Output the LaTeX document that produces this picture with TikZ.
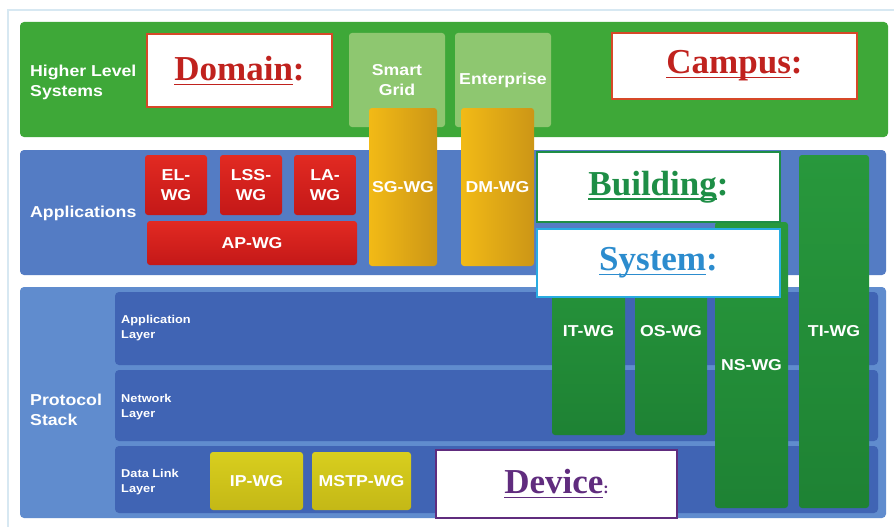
\documentclass[tikz,border=0pt]{standalone}
\usepackage{fontspec}
\setmainfont{Liberation Sans}[FakeStretch=1.12]
\newfontfamily\titlefont{Liberation Serif}
\usetikzlibrary{positioning}

\definecolor{framecol}{RGB}{215,232,242}
\definecolor{bandgreen}{RGB}{62,168,56}
\definecolor{gridgreen}{RGB}{142,199,112}
\definecolor{appblue}{RGB}{84,124,196}
\definecolor{stackblue}{RGB}{96,140,206}
\definecolor{layerblue}{RGB}{64,100,180}
\definecolor{wgredA}{RGB}{226,42,34}
\definecolor{wgredB}{RGB}{196,24,24}
\definecolor{wggoldA}{RGB}{242,186,22}
\definecolor{wggoldB}{RGB}{204,150,22}
\definecolor{wgoliveA}{RGB}{216,206,30}
\definecolor{wgoliveB}{RGB}{196,184,22}
\definecolor{wggreenA}{RGB}{40,152,60}
\definecolor{wggreenB}{RGB}{30,130,52}
\definecolor{domainred}{RGB}{192,34,30}
\definecolor{domainedge}{RGB}{214,72,40}
\definecolor{buildgreen}{RGB}{30,142,70}
\definecolor{systemblue}{RGB}{44,140,206}
\definecolor{systemedge}{RGB}{40,172,226}
\definecolor{devicepurple}{RGB}{96,44,126}

% underline a word, as in the picture
\newcommand{\ulword}[1]{\setbox0\hbox{#1}\rlap{\rule[-4.5pt]{\wd0}{1.3pt}}\box0}

\tikzset{
  band/.style={rounded corners=4pt, inner sep=0pt},
  bandtext/.style={text=white, font=\fontsize{15.8}{20}\selectfont\bfseries, align=left, anchor=west, inner sep=0pt},
  layertext/.style={text=white, font=\fontsize{11.4}{15}\selectfont\bfseries, align=left, anchor=west, inner sep=0pt},
  wgbox/.style={rounded corners=3pt, text=white, font=\fontsize{15.8}{20}\selectfont\bfseries, align=center, inner sep=0pt},
  redwg/.style={wgbox, top color=wgredA, bottom color=wgredB},
  goldwg/.style={wgbox, left color=wggoldA, right color=wggoldB},
  olivewg/.style={wgbox, top color=wgoliveA, bottom color=wgoliveB},
  greenwg/.style={wgbox, top color=wggreenA, bottom color=wggreenB},
  titlebox/.style={draw=#1, line width=2.6pt, fill=white, inner sep=0pt,
    font=\titlefont\fontsize{35}{40}\selectfont\bfseries}
}

\begin{document}
\begin{tikzpicture}[x=1pt, y=-1pt]
  \useasboundingbox (0,0) rectangle (894,527);
  \fill[white] (0,0) rectangle (894,527);
  \draw[framecol, line width=1.2pt] (8,10) rectangle (910,540);

  % higher level systems
  \node[band, fill=bandgreen, minimum width=868, minimum height=115] (hlsband) at (454,79.5) {};
  \node[bandtext] (hlstext) at (30,82) {Higher Level\\Systems};
  \node[titlebox=domainedge, text=domainred, minimum width=185, minimum height=73] (domain) at (239.5,70.5) {\ulword{Domain}:};
  \node[wgbox, fill=gridgreen, minimum width=96, minimum height=94] (smartgrid) at (397,80) {Smart\\Grid};
  \node[wgbox, fill=gridgreen, minimum width=96, minimum height=94] (enterprise) at (503,80) {Enterprise};
  \node[titlebox=domainedge, text=domainred, minimum width=245, minimum height=66] (campus) at (734.5,66) {\ulword{Campus}:};

  % applications
  \node[band, fill=appblue, minimum width=866, minimum height=125] (appband) at (453,212.5) {};
  \node[bandtext] (apptext) at (30,213) {Applications};
  \node[redwg, minimum width=62, minimum height=60] (elwg) at (176,185) {EL-\\WG};
  \node[redwg, minimum width=62, minimum height=60] (lsswg) at (251,185) {LSS-\\WG};
  \node[redwg, minimum width=62, minimum height=60] (lawg) at (325,185) {LA-\\WG};
  \node[redwg, minimum width=210, minimum height=44] (apwg) at (252,243) {AP-WG};
  \node[goldwg, minimum width=68, minimum height=158] (sgwg) at (403,187) {SG-WG};
  \node[goldwg, minimum width=73, minimum height=158] (dmwg) at (497.5,187) {DM-WG};

  % protocol stack
  \node[band, fill=stackblue, minimum width=866, minimum height=231] (stackband) at (453,402.5) {};
  \node[bandtext] (stacktext) at (30,410) {Protocol\\Stack};
  \node[band, fill=layerblue, minimum width=763, minimum height=73] (applayer) at (496.5,328.5) {};
  \node[band, fill=layerblue, minimum width=763, minimum height=71] (netlayer) at (496.5,405.5) {};
  \node[band, fill=layerblue, minimum width=763, minimum height=67] (dllayer) at (496.5,479.5) {};
  \node[layertext] (applayertext) at (121,328) {Application\\Layer};
  \node[layertext] (netlayertext) at (121,407) {Network\\Layer};
  \node[layertext] (dllayertext) at (121,482) {Data Link\\Layer};
  \node[olivewg, minimum width=93, minimum height=58] (ipwg) at (256.5,481) {IP-WG};
  \node[olivewg, minimum width=99, minimum height=58] (mstpwg) at (361.5,481) {MSTP-WG};
  \node[titlebox=devicepurple, text=devicepurple, minimum width=241, minimum height=68] (device) at (556.5,484) {\ulword{Device}{\fontsize{16}{18}\selectfont:}};

  % working groups across the layers
  \node[greenwg, minimum width=73, minimum height=207] (itwg) at (588.5,331.5) {IT-WG};
  \node[greenwg, minimum width=72, minimum height=207] (oswg) at (671,331.5) {OS-WG};
  \node[greenwg, minimum width=73, minimum height=286] (nswg) at (751.5,365) {NS-WG};
  \node[greenwg, minimum width=70, minimum height=353] (tiwg) at (834,331.5) {TI-WG};

  \node[titlebox=buildgreen, text=buildgreen, minimum width=243, minimum height=70] (building) at (658.5,187) {\ulword{Building}:};
  \node[titlebox=systemedge, text=systemblue, minimum width=243, minimum height=68] (system) at (658.5,263) {\ulword{System}:};
\end{tikzpicture}
\end{document}
